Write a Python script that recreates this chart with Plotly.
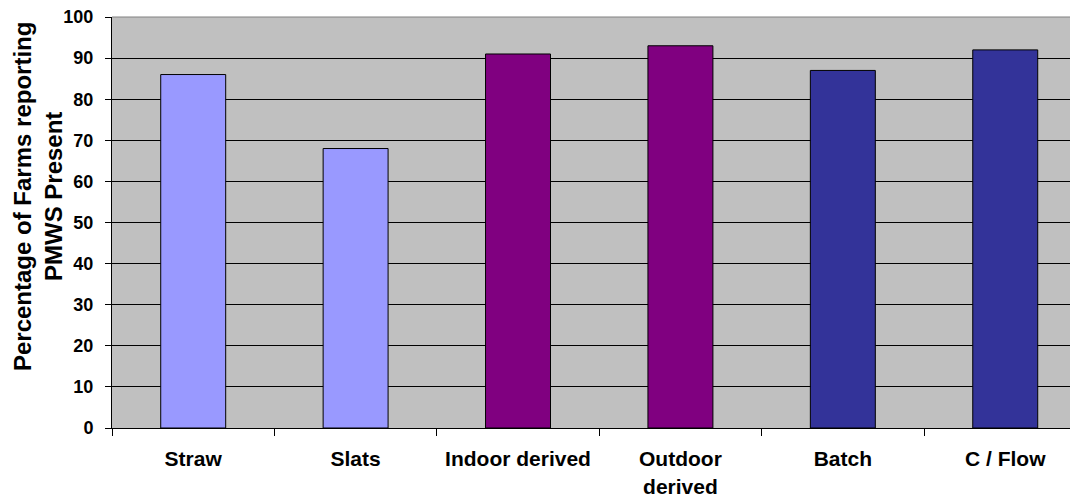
import plotly.graph_objects as go

categories = ["Straw", "Slats", "Indoor derived", "Outdoor<br>derived", "Batch", "C / Flow"]
values = [86, 68, 91, 93, 87, 92]
colors = ["#9999FF", "#9999FF", "#800080", "#800080", "#333399", "#333399"]
y_title = "Percentage of Farms reporting<br>PMWS Present"

FONT = "Liberation Sans, Arial"

fig = go.Figure(go.Bar(
    x=categories, y=values, width=0.4,
    marker=dict(color=colors, line=dict(color="black", width=1)),
))

fig.update_layout(
    width=1070, height=490,
    margin=dict(l=104, r=0, t=9, b=70),
    paper_bgcolor="white", plot_bgcolor="#C0C0C0",
    font=dict(family=FONT, color="black"),
    showlegend=False,
)
fig.update_xaxes(
    range=[-0.5, 5.448], showline=True, linecolor="black", linewidth=1,
    ticks="outside", tickson="boundaries", ticklen=7, tickcolor="black",
    tickfont=dict(size=21, family=FONT, weight="bold"),
    ticklabelstandoff=12, showgrid=False,
)
fig.update_yaxes(
    range=[0, 100], dtick=10, showline=True, linecolor="black", linewidth=1,
    ticks="outside", ticklen=6, tickcolor="black", zeroline=False,
    gridcolor="black", gridwidth=1,
    tickfont=dict(size=18, family=FONT, weight="bold"),
    ticklabelstandoff=8, ticklabeloverflow="allow",
)
fig.add_shape(type="line", xref="paper", yref="paper", x0=0, x1=1, y0=1, y1=1,
              line=dict(color="#808080", width=1), layer="above")
fig.add_annotation(
    text=y_title, xref="paper", yref="paper", x=-0.0766, y=0.562,
    xanchor="center", yanchor="middle", textangle=-90, showarrow=False,
    font=dict(size=24, family=FONT, weight="bold"),
)
fig.write_html("out.html")
